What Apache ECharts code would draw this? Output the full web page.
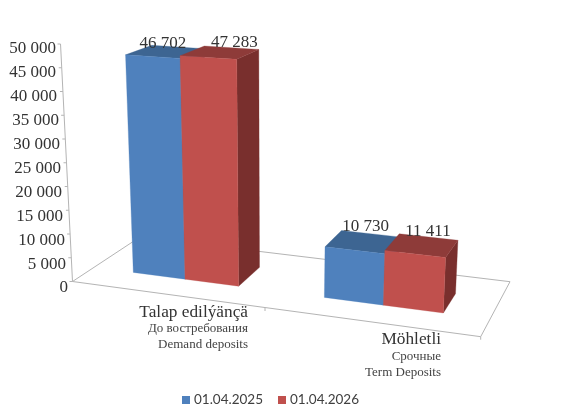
<!DOCTYPE html>
<html><head><meta charset="utf-8">
<style>html,body{margin:0;padding:0;background:#fff}#c{width:567px;height:412px}</style>
<script src="https://cdn.jsdelivr.net/npm/echarts@6/dist/echarts.min.js"></script>
</head><body><div id="c"></div>
<script>
const categories = ['Talap edilýänçä', 'Möhletli'];
const categoriesRu = ['До востребования', 'Срочные'];
const categoriesEn = ['Demand deposits', 'Term Deposits'];
const seriesNames = ['01.04.2025', '01.04.2026'];
const values2025 = [46702, 10730];
const values2026 = [47283, 11411];
const yTicks = [0, 5000, 10000, 15000, 20000, 25000, 30000, 35000, 40000, 45000, 50000];

const serif = '"Liberation Serif", serif';
const fmt = v => String(v).replace(/\B(?=(\d{3})+$)/g, ' ');

// Perspective of the 3D box: floor corners, vertical convergence
const A=[72.5,281.5], B=[480.7,336.7], C=[510,281.7], D=[140,237];
function floor(u,v){
  return [0,1].map(k => A[k]*(1-u)*(1-v)+B[k]*u*(1-v)+D[k]*(1-u)*v+C[k]*u*v);
}
function lift(p,h){
  const H = 237.5 + 0.5*(p[1]-281.5);
  return [p[0] + h*0.06*(p[0]-272), p[1] - h*H];
}
const P = (u,v,h) => lift(floor(u,v),h);
const barEdges = [[0.099,0.2296,0.365],[0.5815,0.7305,0.882]];
const frontV = 0.32, backV = [0.71,0.68], depthScale = [1,0.96];
const labelShift = [[[-2.5,-8],[14.5,-10]],[[3,-15],[6,-14]]];
const faces = [
  {front:'#4F81BD', top:'#3D6592', side:'#335577'},
  {front:'#C0504D', top:'#8E3B39', side:'#792F2D'}
];
const yLabelRight = [68,66,65,63,62,61,60,59,57,56,56];
const rich = {};
yLabelRight.forEach((r,i)=>{ rich['y'+i] = {padding:[0,72-4-r,0,0], fontFamily:serif, fontSize:17, color:'#333'}; });

function heightOf(api,cat,val){
  const y0 = api.coord([cat,0])[1], yMax = api.coord([cat,50000])[1];
  return (y0 - api.coord([cat,val])[1])/(y0-yMax);
}
function poly(points,fill){
  return {type:'polygon', shape:{points}, style:{fill, stroke:fill, lineWidth:0.3}};
}
function barRenderer(s){
  return function(params,api){
    const cat = api.value(0), val = api.value(1);
    const h = heightOf(api,cat,val)*depthScale[cat];
    const u0 = barEdges[cat][s], u1 = barEdges[cat][s+1], bv = backV[cat];
    const f = faces[s];
    const topCentre = P((u0+u1)/2,(frontV+bv)/2,h);
    const sh = labelShift[cat][s];
    return {type:'group', children:[
      poly([P(u1,frontV,0),P(u1,bv,0),P(u1,bv,h),P(u1,frontV,h)], f.side),
      poly([P(u0,frontV,h),P(u1,frontV,h),P(u1,bv,h),P(u0,bv,h)], f.top),
      poly([P(u0,frontV,0),P(u1,frontV,0),P(u1,frontV,h),P(u0,frontV,h)], f.front),
      {type:'text', z2:50, style:{x:topCentre[0]+sh[0], y:topCentre[1]+sh[1], text:fmt(val),
        font:'17px '+serif, fill:'#333', align:'center', verticalAlign:'middle'}}
    ]};
  };
}
function frameRenderer(params,api){
  const h = heightOf(api,0,api.value(1));
  const p = P(0,0,h);
  const lineStyle = {stroke:'#b4b4b4', lineWidth:1, fill:'none'};
  const children = [{type:'line', shape:{x1:p[0]-3,y1:p[1],x2:p[0],y2:p[1]}, style:lineStyle}];
  if (params.dataIndex === 0) {
    const top = P(0,0,1);
    children.push(
      {type:'polygon', shape:{points:[A,B,C,D]}, style:{fill:'none', stroke:'#b4b4b4', lineWidth:1}},
      {type:'line', shape:{x1:A[0],y1:A[1],x2:top[0],y2:top[1]}, style:lineStyle},
      {type:'line', shape:{x1:B[0],y1:B[1],x2:B[0],y2:B[1]+3}, style:lineStyle},
      {type:'line', shape:{x1:265,y1:308,x2:265,y2:311}, style:lineStyle}
    );
  }
  return {type:'group', children};
}

const chart = echarts.init(document.getElementById('c'), null, {renderer:'canvas'});
chart.setOption({
  animation:false,
  backgroundColor:'#fff',
  grid:{left:151.5, width:386, top:49, height:239},
  legend:{data:seriesNames, top:388, left:177, icon:'rect', itemWidth:8, itemHeight:8, itemGap:15,
    textStyle:{fontFamily:'Lato', fontSize:13.5, color:'#404040', padding:[0,0,0,-1]}},
  xAxis:{type:'category', data:categories, axisLine:{show:false}, axisTick:{show:false},
    axisLabel:{align:'right', margin:15, interval:0,
      formatter:(v,i)=>`${i?'{s|}\n':''}{a|${v}}\n{b|${categoriesRu[i]}}\n{b|${categoriesEn[i]}}`,
      rich:{
        s:{fontSize:10,lineHeight:27.5,align:'right'},
        a:{fontFamily:serif,fontSize:17.3,color:'#333',lineHeight:18,align:'right'},
        b:{fontFamily:serif,fontSize:13,color:'#444',lineHeight:16,align:'right'}
      }}},
  yAxis:{type:'value', min:0, max:50000, interval:5000, offset:79.5,
    axisLine:{show:false}, axisTick:{show:false}, splitLine:{show:false},
    axisLabel:{margin:4, formatter:(v,i)=>`{y${yTicks.indexOf(v)}|${fmt(v)}}`, rich}},
  series:[
    {type:'custom', name:'frame', silent:true, z:1, renderItem:frameRenderer, data:yTicks.map(t=>[0,t])},
    {type:'custom', name:seriesNames[0], silent:true, z:2, itemStyle:{color:faces[0].front}, renderItem:barRenderer(0),
      data:values2025.map((v,i)=>[i,v])},
    {type:'custom', name:seriesNames[1], silent:true, z:3, itemStyle:{color:faces[1].front}, renderItem:barRenderer(1),
      data:values2026.map((v,i)=>[i,v])}
  ]
});
</script></body></html>
